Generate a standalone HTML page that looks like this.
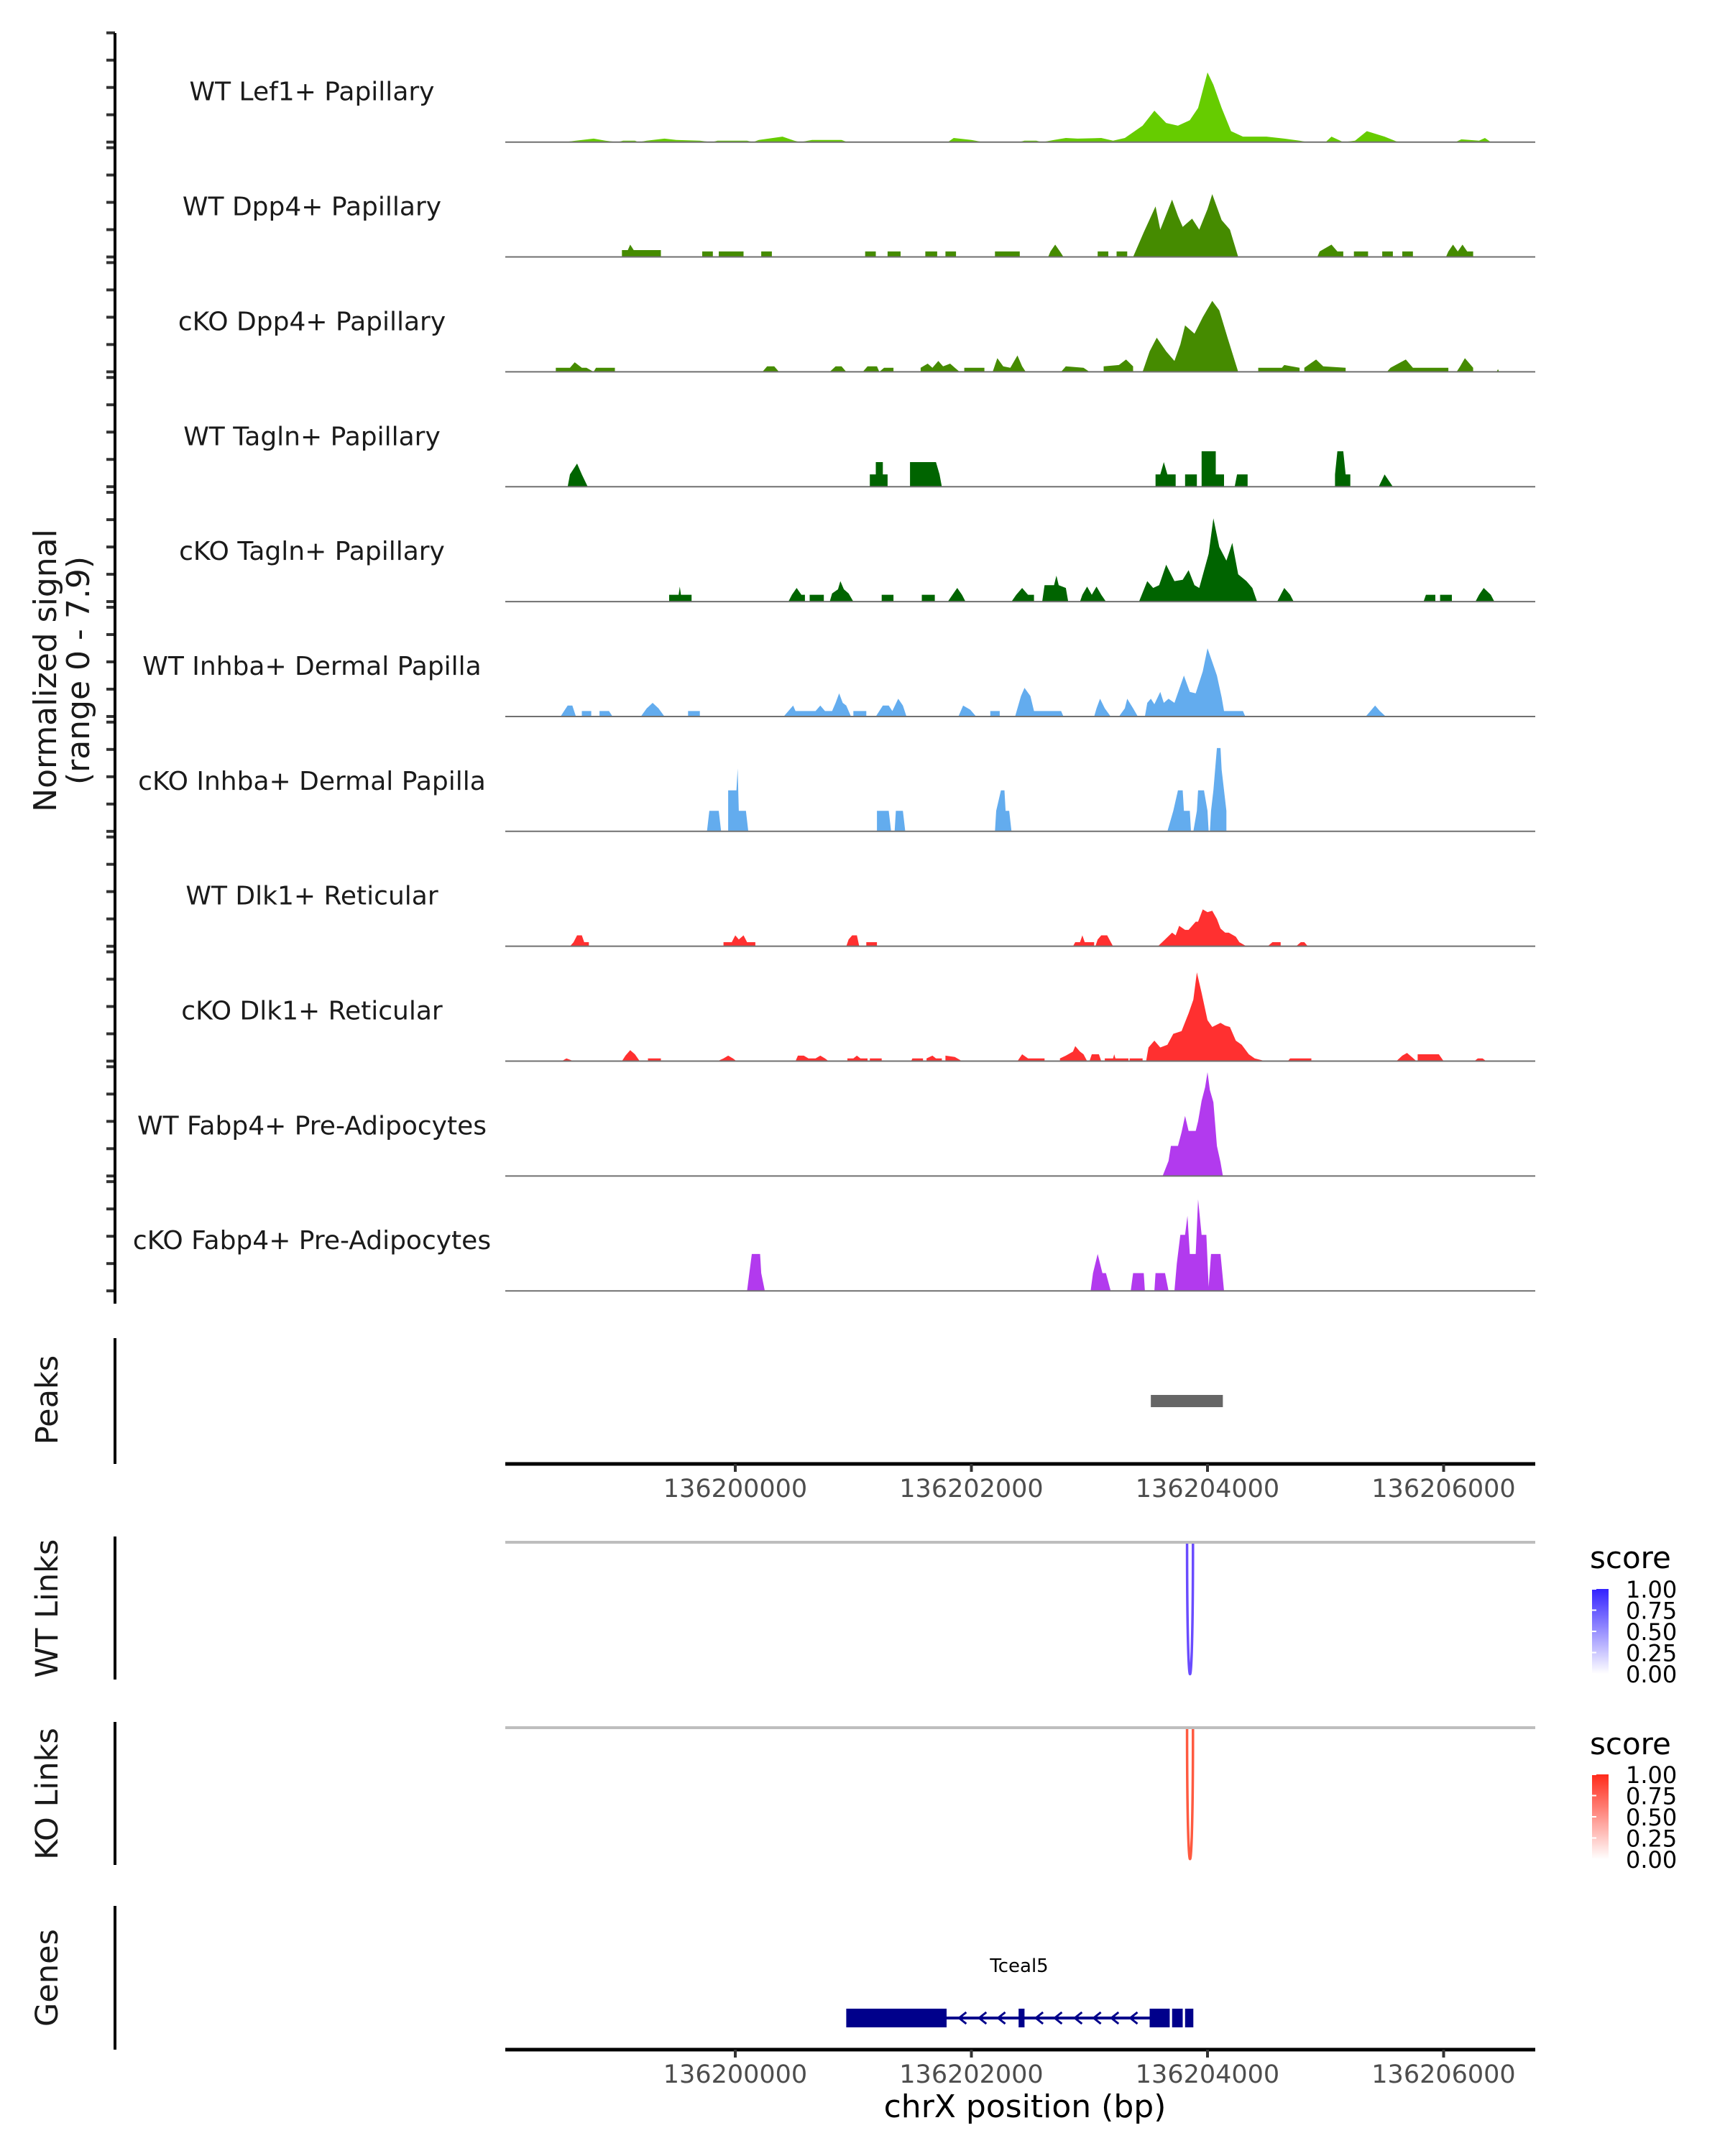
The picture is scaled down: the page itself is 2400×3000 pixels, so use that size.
<!DOCTYPE html>
<html><head><meta charset="utf-8"><title>Coverage plot</title>
<style>
html,body{margin:0;padding:0;background:#fff;}
svg{display:block;font-family:"DejaVu Sans","Liberation Sans",sans-serif;}
</style></head>
<body>
<svg id="chart" width="2400" height="3000" viewBox="0 0 2400 3000" xmlns="http://www.w3.org/2000/svg">
<defs>
<linearGradient id="gWT" x1="0" y1="1" x2="0" y2="0"><stop offset="0" stop-color="#ffffff"/><stop offset="1" stop-color="#3322ff"/></linearGradient>
<linearGradient id="gKO" x1="0" y1="1" x2="0" y2="0"><stop offset="0" stop-color="#ffffff"/><stop offset="1" stop-color="#ff2a1a"/></linearGradient>
</defs>
<g id="tracks"></g>
<g id="axes"></g>
<text transform="translate(78,933) rotate(-90)" text-anchor="middle" font-size="44" fill="#1a1a1a">Normalized signal</text>
<text transform="translate(124,933) rotate(-90)" text-anchor="middle" font-size="44" fill="#1a1a1a">(range 0 - 7.9)</text>
<text transform="translate(80,1948) rotate(-90)" text-anchor="middle" font-size="43" fill="#1a1a1a">Peaks</text>
<text transform="translate(80,2238) rotate(-90)" text-anchor="middle" font-size="43" fill="#1a1a1a">WT Links</text>
<text transform="translate(80,2496) rotate(-90)" text-anchor="middle" font-size="43" fill="#1a1a1a">KO Links</text>
<text transform="translate(80,2752) rotate(-90)" text-anchor="middle" font-size="43" fill="#1a1a1a">Genes</text>
<text x="1426" y="2946" text-anchor="middle" font-size="44" fill="#000">chrX position (bp)</text>
<g>
<text x="2212" y="2182" font-size="42" fill="#000">score</text>
<rect x="2215" y="2211" width="23" height="118" fill="url(#gWT)"/>
</g>
<g>
<text x="2212" y="2441" font-size="42" fill="#000">score</text>
<rect x="2215" y="2469" width="23" height="118" fill="url(#gKO)"/>
</g>
<g id="legendLabels"></g>
</svg>
<script>
const NS = "http://www.w3.org/2000/svg";
const trackNames = ["WT Lef1+ Papillary","WT Dpp4+ Papillary","cKO Dpp4+ Papillary","WT Tagln+ Papillary","cKO Tagln+ Papillary","WT Inhba+ Dermal Papilla","cKO Inhba+ Dermal Papilla","WT Dlk1+ Reticular","cKO Dlk1+ Reticular","WT Fabp4+ Pre-Adipocytes","cKO Fabp4+ Pre-Adipocytes"];
const trackColors = ["#66cc00","#458b00","#458b00","#006400","#006400","#63acee","#63acee","#ff3030","#ff3030","#b23aee","#b23aee"];
const xTicks = [136200000,136202000,136204000,136206000];
const yTicks = [0,2,4,6,8];
const legendTicks = [0,0.25,0.5,0.75,1];
const peakRegion = [136203520,136204130];
const geneExons = [[200.94,201.79],[202.40,202.45],[203.51,203.68],[203.70,203.79],[203.81,203.88]];
const geneIntron = [201.79,203.51];
const geneArrows = [201.92,202.09,202.25,202.57,202.73,202.90,203.06,203.21,203.37];
const linkWT = [203.90,203.95];
const linkKO = [203.90,203.95];

const lef1WT = [[198.55,0],[198.65,0.1],[198.8,0.25],[198.9,0.1],[199.0,0],[199.05,0.1],[199.15,0.1],[199.18,0],[199.25,0.1],[199.4,0.25],[199.5,0.15],[199.7,0.1],[199.8,0],[199.85,0.1],[200.1,0.1],[200.15,0],[200.2,0.15],[200.4,0.4],[200.5,0.1],[200.55,0],[200.65,0.15],[200.9,0.15],[200.95,0],[201.8,0],[201.85,0.3],[202.0,0.15],[202.1,0],[202.4,0],[202.45,0.1],[202.55,0.1],[202.6,0],[202.7,0.15],[202.8,0.3],[202.9,0.25],[203.1,0.3],[203.2,0.1],[203.3,0.3],[203.45,1.2],[203.55,2.3],[203.65,1.4],[203.75,1.2],[203.85,1.6],[203.92,2.5],[204.0,5.1],[204.05,4.2],[204.12,2.5],[204.2,0.8],[204.3,0.4],[204.5,0.4],[204.65,0.25],[204.78,0.1],[204.85,0],[205.0,0],[205.05,0.4],[205.15,0],[205.25,0.1],[205.35,0.8],[205.5,0.4],[205.6,0.05],[205.65,0],[206.1,0],[206.15,0.2],[206.3,0.1],[206.35,0.3],[206.4,0]];
const dpp4WT = [[199.04,0],[199.04,0.5],[199.09,0.5],[199.11,0.9],[199.14,0.5],[199.37,0.5],[199.37,0],[199.72,0],[199.72,0.4],[199.81,0.4],[199.81,0],[199.86,0],[199.86,0.4],[200.07,0.4],[200.07,0],[200.22,0],[200.22,0.4],[200.31,0.4],[200.31,0],[201.10,0],[201.10,0.4],[201.19,0.4],[201.19,0],[201.29,0],[201.29,0.4],[201.40,0.4],[201.40,0],[201.61,0],[201.61,0.4],[201.71,0.4],[201.71,0],[201.78,0],[201.78,0.4],[201.87,0.4],[201.87,0],[202.20,0],[202.20,0.4],[202.41,0.4],[202.41,0],[202.65,0],[202.67,0.4],[202.71,0.9],[202.75,0.4],[202.78,0],[203.07,0],[203.07,0.4],[203.16,0.4],[203.16,0],[203.23,0],[203.23,0.4],[203.32,0.4],[203.32,0],[203.37,0],[203.46,1.8],[203.56,3.7],[203.60,2.0],[203.70,4.2],[203.75,3.0],[203.79,2.2],[203.87,2.8],[203.93,2.0],[204.0,3.5],[204.04,4.6],[204.12,2.7],[204.19,2.0],[204.26,0],[204.93,0],[204.95,0.4],[205.05,0.9],[205.10,0.4],[205.15,0.4],[205.15,0],[205.24,0],[205.24,0.4],[205.36,0.4],[205.36,0],[205.48,0],[205.48,0.4],[205.57,0.4],[205.57,0],[205.65,0],[205.65,0.4],[205.74,0.4],[205.74,0],[206.02,0],[206.04,0.4],[206.08,0.9],[206.12,0.4],[206.16,0.9],[206.20,0.4],[206.25,0.4],[206.25,0]];
const dpp4KO = [[198.48,0],[198.48,0.3],[198.60,0.3],[198.64,0.7],[198.70,0.3],[198.74,0.3],[198.80,0],[198.82,0.3],[198.98,0.3],[198.98,0],[200.23,0],[200.27,0.4],[200.33,0.4],[200.37,0],[200.80,0],[200.85,0.4],[200.90,0.4],[200.94,0],[201.08,0],[201.12,0.4],[201.20,0.4],[201.22,0],[201.26,0.3],[201.34,0.3],[201.34,0],[201.57,0],[201.57,0.3],[201.63,0.6],[201.67,0.3],[201.72,0.8],[201.76,0.4],[201.82,0.6],[201.86,0.3],[201.90,0],[201.94,0],[201.94,0.3],[202.11,0.3],[202.11,0],[202.18,0],[202.22,1.0],[202.27,0.4],[202.33,0.3],[202.39,1.2],[202.43,0.4],[202.46,0],[202.76,0],[202.80,0.4],[202.95,0.3],[203.0,0],[203.12,0],[203.12,0.4],[203.25,0.5],[203.31,0.9],[203.37,0.4],[203.37,0],[203.45,0],[203.51,1.5],[203.57,2.5],[203.65,1.5],[203.72,0.8],[203.77,2.0],[203.81,3.4],[203.89,2.8],[203.96,4.0],[204.04,5.2],[204.10,4.5],[204.17,2.5],[204.26,0],[204.43,0],[204.43,0.3],[204.63,0.3],[204.65,0.5],[204.78,0.3],[204.78,0],[204.82,0],[204.82,0.3],[204.92,0.9],[204.98,0.4],[205.17,0.3],[205.17,0],[205.52,0],[205.55,0.3],[205.68,0.9],[205.74,0.3],[205.85,0.3],[205.87,0.3],[206.04,0.3],[206.04,0],[206.11,0],[206.14,0.4],[206.18,1.0],[206.25,0.3],[206.25,0],[206.45,0],[206.46,0.2],[206.47,0]];
const taglnWT = [[198.58,0],[198.60,0.9],[198.66,1.7],[198.70,0.9],[198.75,0],[201.14,0],[201.14,0.9],[201.19,0.9],[201.19,1.8],[201.25,1.8],[201.25,0.9],[201.29,0.9],[201.29,0],[201.48,0],[201.48,1.8],[201.70,1.8],[201.73,0.9],[201.75,0],[203.56,0],[203.56,0.9],[203.60,0.9],[203.63,1.8],[203.66,0.9],[203.73,0.9],[203.73,0],[203.81,0],[203.81,0.9],[203.91,0.9],[203.91,0],[203.95,0],[203.95,2.6],[204.07,2.6],[204.07,0.9],[204.14,0.9],[204.14,0],[204.23,0],[204.25,0.9],[204.34,0.9],[204.34,0],[205.08,0],[205.08,0.9],[205.10,2.6],[205.15,2.6],[205.17,0.9],[205.21,0.9],[205.21,0],[205.45,0],[205.50,0.9],[205.57,0]];
const taglnKO = [[199.44,0],[199.44,0.5],[199.52,0.5],[199.53,1.1],[199.54,0.5],[199.63,0.5],[199.63,0],[200.45,0],[200.48,0.5],[200.52,1.0],[200.56,0.5],[200.59,0.5],[200.59,0],[200.63,0],[200.63,0.5],[200.75,0.5],[200.75,0],[200.80,0],[200.82,0.6],[200.87,0.9],[200.89,1.5],[200.92,0.9],[200.96,0.6],[201.0,0],[201.24,0],[201.24,0.5],[201.34,0.5],[201.34,0],[201.58,0],[201.58,0.5],[201.69,0.5],[201.69,0],[201.80,0],[201.84,0.5],[201.88,1.0],[201.92,0.5],[201.95,0],[202.34,0],[202.38,0.5],[202.43,1.0],[202.48,0.5],[202.53,0.5],[202.53,0],[202.60,0],[202.62,1.2],[202.70,1.2],[202.72,1.9],[202.74,1.2],[202.80,1.0],[202.82,0],[202.92,0],[202.94,0.5],[202.98,1.1],[203.02,0.5],[203.06,1.1],[203.10,0.5],[203.14,0],[203.42,0],[203.49,1.5],[203.54,1.0],[203.59,1.2],[203.65,2.7],[203.72,1.5],[203.79,1.6],[203.84,2.3],[203.89,1.2],[203.93,1.0],[204.01,3.5],[204.05,6.1],[204.10,4.0],[204.16,3.0],[204.21,4.3],[204.26,2.0],[204.33,1.5],[204.38,1.0],[204.42,0],[204.59,0],[204.62,0.5],[204.65,1.0],[204.70,0.5],[204.73,0],[205.83,0],[205.85,0.5],[205.93,0.5],[205.93,0],[205.97,0],[205.97,0.5],[206.07,0.5],[206.07,0],[206.27,0],[206.30,0.5],[206.34,1.0],[206.40,0.5],[206.43,0]];
const inhbaWT = [[198.52,0],[198.55,0.4],[198.58,0.8],[198.62,0.8],[198.65,0],[198.70,0],[198.70,0.4],[198.78,0.4],[198.78,0],[198.85,0],[198.85,0.4],[198.93,0.4],[198.96,0],[199.20,0],[199.25,0.6],[199.30,1.0],[199.35,0.6],[199.40,0],[199.60,0],[199.60,0.4],[199.70,0.4],[199.70,0],[200.41,0],[200.45,0.4],[200.49,0.8],[200.51,0.4],[200.68,0.4],[200.72,0.8],[200.76,0.4],[200.82,0.4],[200.85,1.0],[200.88,1.7],[200.91,1.0],[200.94,0.8],[200.98,0],[201.0,0],[201.0,0.4],[201.11,0.4],[201.11,0],[201.19,0],[201.25,0.8],[201.30,0.8],[201.33,0.4],[201.38,1.3],[201.42,0.8],[201.45,0],[201.89,0],[201.93,0.8],[201.99,0.5],[202.04,0],[202.16,0],[202.16,0.4],[202.24,0.4],[202.24,0],[202.37,0],[202.42,1.5],[202.45,2.1],[202.50,1.5],[202.53,0.4],[202.76,0.4],[202.78,0],[203.04,0],[203.06,0.6],[203.09,1.3],[203.13,0.6],[203.18,0],[203.25,0],[203.30,0.6],[203.32,1.3],[203.37,0.6],[203.41,0],[203.47,0],[203.49,1.0],[203.52,1.3],[203.55,0.9],[203.60,1.8],[203.63,1.0],[203.67,1.3],[203.72,1.0],[203.76,2.0],[203.80,3.0],[203.85,1.8],[203.90,1.7],[203.96,3.3],[204.0,5.0],[204.04,4.0],[204.08,3.0],[204.12,1.4],[204.14,0.4],[204.30,0.4],[204.32,0],[205.34,0],[205.38,0.4],[205.42,0.8],[205.46,0.4],[205.51,0]];
const inhbaKO = [[199.76,0],[199.78,1.5],[199.86,1.5],[199.88,0],[199.94,0],[199.94,3.0],[200.01,3.0],[200.02,4.6],[200.03,1.5],[200.09,1.5],[200.11,0],[201.20,0],[201.20,1.5],[201.30,1.5],[201.32,0],[201.35,0],[201.36,1.5],[201.42,1.5],[201.44,0],[202.20,0],[202.21,1.5],[202.25,3.0],[202.28,3.0],[202.29,1.5],[202.32,1.5],[202.34,0],[203.66,0],[203.71,1.5],[203.75,3.0],[203.79,3.0],[203.80,1.5],[203.85,1.5],[203.86,0],[203.88,0],[203.91,1.5],[203.92,3.0],[203.97,3.0],[204.0,1.5],[204.01,0],[204.02,0],[204.03,1.5],[204.05,3.0],[204.08,6.1],[204.11,6.1],[204.12,4.5],[204.16,1.5],[204.16,0]];
const dlk1WT = [[198.60,0],[198.63,0.3],[198.66,0.8],[198.70,0.8],[198.72,0.3],[198.76,0.3],[198.76,0],[199.90,0],[199.90,0.3],[199.97,0.3],[200.0,0.8],[200.03,0.5],[200.07,0.8],[200.10,0.3],[200.17,0.3],[200.17,0],[200.94,0],[200.96,0.5],[200.99,0.8],[201.03,0.8],[201.05,0],[201.11,0],[201.11,0.3],[201.20,0.3],[201.20,0],[202.86,0],[202.88,0.3],[202.92,0.3],[202.94,0.8],[202.96,0.3],[203.04,0.3],[203.04,0],[203.05,0],[203.07,0.5],[203.10,0.8],[203.15,0.8],[203.20,0],[203.58,0],[203.64,0.5],[203.70,1.0],[203.73,0.8],[203.76,1.5],[203.81,1.2],[203.84,1.2],[203.90,1.8],[203.92,1.8],[203.96,2.7],[204.0,2.5],[204.04,2.6],[204.08,2.0],[204.11,1.3],[204.15,1.0],[204.18,1.0],[204.24,0.7],[204.27,0.3],[204.33,0],[204.51,0],[204.55,0.3],[204.62,0.3],[204.62,0],[204.75,0],[204.79,0.3],[204.82,0.3],[204.85,0]];
const dlk1KO = [[198.53,0],[198.57,0.2],[198.63,0],[199.04,0],[199.07,0.4],[199.11,0.8],[199.15,0.5],[199.19,0],[199.26,0],[199.26,0.2],[199.37,0.2],[199.37,0],[199.85,0],[199.90,0.2],[199.94,0.4],[199.98,0.2],[200.01,0],[200.51,0],[200.53,0.4],[200.58,0.4],[200.62,0.2],[200.68,0.2],[200.72,0.4],[200.76,0.2],[200.79,0],[200.95,0],[200.95,0.2],[201.0,0.2],[201.03,0.4],[201.06,0.2],[201.12,0.2],[201.12,0],[201.14,0],[201.14,0.2],[201.24,0.2],[201.24,0],[201.49,0],[201.50,0.2],[201.59,0.2],[201.59,0],[201.62,0],[201.62,0.2],[201.67,0.4],[201.70,0.2],[201.75,0.2],[201.75,0],[201.78,0],[201.78,0.4],[201.86,0.3],[201.92,0],[202.39,0],[202.43,0.5],[202.48,0.2],[202.62,0.2],[202.62,0],[202.75,0],[202.75,0.2],[202.80,0.4],[202.86,0.7],[202.88,1.1],[202.92,0.7],[202.95,0.5],[202.98,0],[203.0,0],[203.02,0.5],[203.08,0.5],[203.10,0],[203.13,0],[203.13,0.2],[203.20,0.2],[203.21,0.5],[203.22,0.2],[203.33,0.2],[203.33,0],[203.34,0],[203.34,0.2],[203.45,0.2],[203.45,0],[203.48,0],[203.50,1.0],[203.55,1.5],[203.60,1.0],[203.66,1.2],[203.71,2.0],[203.78,2.2],[203.84,3.5],[203.88,4.5],[203.91,6.5],[203.95,5.0],[204.0,3.0],[204.04,2.5],[204.11,2.8],[204.15,2.6],[204.19,2.5],[204.24,1.5],[204.29,1.2],[204.35,0.5],[204.40,0.2],[204.49,0],[204.68,0],[204.70,0.2],[204.88,0.2],[204.88,0],[205.60,0],[205.65,0.4],[205.69,0.6],[205.73,0.3],[205.77,0],[205.78,0],[205.78,0.5],[205.96,0.5],[206.0,0],[206.26,0],[206.29,0.2],[206.33,0.2],[206.36,0]];
const fabp4WT = [[203.62,0],[203.67,1.1],[203.69,2.2],[203.75,2.2],[203.78,3.2],[203.81,4.4],[203.84,3.3],[203.90,3.3],[203.92,4.0],[203.95,5.5],[203.98,6.5],[204.0,7.6],[204.02,6.3],[204.05,5.4],[204.08,2.2],[204.11,1.0],[204.13,0]];
const fabp4KO = [[200.10,0],[200.11,0.7],[200.14,2.7],[200.21,2.7],[200.22,1.3],[200.25,0],[203.01,0],[203.03,1.3],[203.07,2.7],[203.11,1.3],[203.14,1.3],[203.18,0],[203.35,0],[203.37,1.3],[203.46,1.3],[203.47,0],[203.55,0],[203.56,1.3],[203.64,1.3],[203.67,0],[203.72,0],[203.74,2.0],[203.77,4.1],[203.81,4.1],[203.83,5.5],[203.85,2.7],[203.90,2.7],[203.92,6.7],[203.95,4.1],[203.99,4.1],[204.01,0.3],[204.03,2.7],[204.11,2.7],[204.14,0]];
const trackSeries = [lef1WT,dpp4WT,dpp4KO,taglnWT,taglnKO,inhbaWT,inhbaKO,dlk1WT,dlk1KO,fabp4WT,fabp4KO];

const X0 = 703, X1 = 2136;
function xbp(bp){ return 1023 + (bp - 136200000) * 0.16425; }
function xkb(kb){ return xbp(136000000 + kb * 1000); }
const BASE0 = 197.7, STEP = 159.85, PX_PER_UNIT = 19;
function ybase(i){ return BASE0 + i * STEP; }
function yval(i, v){ return ybase(i) - v * PX_PER_UNIT; }

function mk(tag, attrs, parent){
  const e = document.createElementNS(NS, tag);
  for (const k in attrs) e.setAttribute(k, attrs[k]);
  parent.appendChild(e);
  return e;
}
const svg = document.getElementById('chart');
const tracksG = document.getElementById('tracks');
const axesG = document.getElementById('axes');

trackSeries.forEach((series, i) => {
  const g = mk('g', {}, tracksG);
  
  
  let d = 'M' + xkb(series[0][0]).toFixed(1) + ' ' + ybase(i).toFixed(1);
  series.forEach(p => { d += ' L' + xkb(p[0]).toFixed(1) + ' ' + yval(i, p[1]).toFixed(1); });
  d += ' L' + xkb(series[series.length - 1][0]).toFixed(1) + ' ' + ybase(i).toFixed(1) + ' Z';
  const area = mk('path', {d: d, fill: trackColors[i], stroke: 'none'}, g);
  
  
  const bl = mk('line', {x1: X0, x2: X1, y1: ybase(i), y2: ybase(i), stroke: '#707070', 'stroke-width': 2}, g);
  
  
  const lab = mk('text', {x: 434, y: ybase(i) - 58, 'text-anchor': 'middle', 'font-size': 36, fill: '#1a1a1a'}, g);
  lab.textContent = trackNames[i];
  
  
  yTicks.forEach(t => {
    const tk = mk('line', {x1: 148, x2: 160, y1: yval(i, t), y2: yval(i, t), stroke: '#333', 'stroke-width': 4}, axesG);
    
    
  });
});

const ya = mk('line', {x1: 160, x2: 160, y1: 46, y2: 1814, stroke: '#000', 'stroke-width': 4}, axesG);



[[1862,2037],[2138,2337],[2396,2595],[2652,2852]].forEach(s => {
  const l = mk('line', {x1: 160, x2: 160, y1: s[0], y2: s[1], stroke: '#000', 'stroke-width': 4}, axesG);
  
  
});

const pk = mk('rect', {x: xbp(peakRegion[0]), y: 1941, width: xbp(peakRegion[1]) - xbp(peakRegion[0]), height: 17, fill: '#666666'}, svg);



[[2037, 2083], [2852, 2898]].forEach(a => {
  const ax = mk('line', {x1: X0, x2: X1, y1: a[0], y2: a[0], stroke: '#000', 'stroke-width': 5}, axesG);
  
  
  xTicks.forEach(t => {
    const tk = mk('line', {x1: xbp(t), x2: xbp(t), y1: a[0], y2: a[0] + 11, stroke: '#333', 'stroke-width': 4}, axesG);
    
    
    const tl = mk('text', {x: xbp(t), y: a[1], 'text-anchor': 'middle', 'font-size': 35, fill: '#4d4d4d'}, axesG);
    tl.textContent = String(t);
    
    
  });
});

[[linkWT, 2146, 2390, '#6a4cff', 'wt-link'], [linkKO, 2404, 2647, '#ff5a40', 'ko-link']].forEach(L => {
  const top = mk('line', {x1: X0, x2: X1, y1: L[1], y2: L[1], stroke: '#bebebe', 'stroke-width': 4}, svg);
  
  
  const a = xkb(L[0][0]) - 12, b = xkb(L[0][1]) - 12;
  const arc = mk('path', {d: 'M' + a + ' ' + (L[1] + 2) + ' C' + a + ' ' + L[2] + ' ' + b + ' ' + L[2] + ' ' + b + ' ' + (L[1] + 2), fill: 'none', stroke: L[3], 'stroke-width': 3.5}, svg);
  
  
});

const legLab = document.getElementById('legendLabels');
[[2211, 2329], [2469, 2587]].forEach(r => {
  legendTicks.forEach(v => {
    const y = r[1] - v * (r[1] - r[0]);
    const tk = mk('line', {x1: 2215, x2: 2221, y1: y, y2: y, stroke: '#fff', 'stroke-width': 2}, legLab);
    
    
    const t = mk('text', {x: 2262, y: y + 12, 'font-size': 32, fill: '#000'}, legLab);
    t.textContent = v.toFixed(2);
    
    
  });
});

const gg = mk('g', {}, svg);


const gy = 2808;
const intr = mk('line', {x1: xkb(geneIntron[0]), x2: xkb(geneIntron[1]), y1: gy, y2: gy, stroke: '#00008b', 'stroke-width': 4}, gg);


geneExons.forEach(e => {
  const r = mk('rect', {x: xkb(e[0]), y: gy - 13, width: xkb(e[1]) - xkb(e[0]), height: 26, fill: '#00008b'}, gg);
  
  
});
geneArrows.forEach(k => {
  const x = xkb(k);
  const p = mk('path', {d: 'M' + (x + 6) + ' ' + (gy - 8) + ' L' + (x - 4) + ' ' + gy + ' L' + (x + 6) + ' ' + (gy + 8), fill: 'none', stroke: '#00008b', 'stroke-width': 3}, gg);
  
  
});
const gl = mk('text', {x: 1418, y: 2744, 'text-anchor': 'middle', 'font-size': 26, fill: '#000'}, gg);
gl.textContent = 'Tceal5';


</script>
</body></html>
